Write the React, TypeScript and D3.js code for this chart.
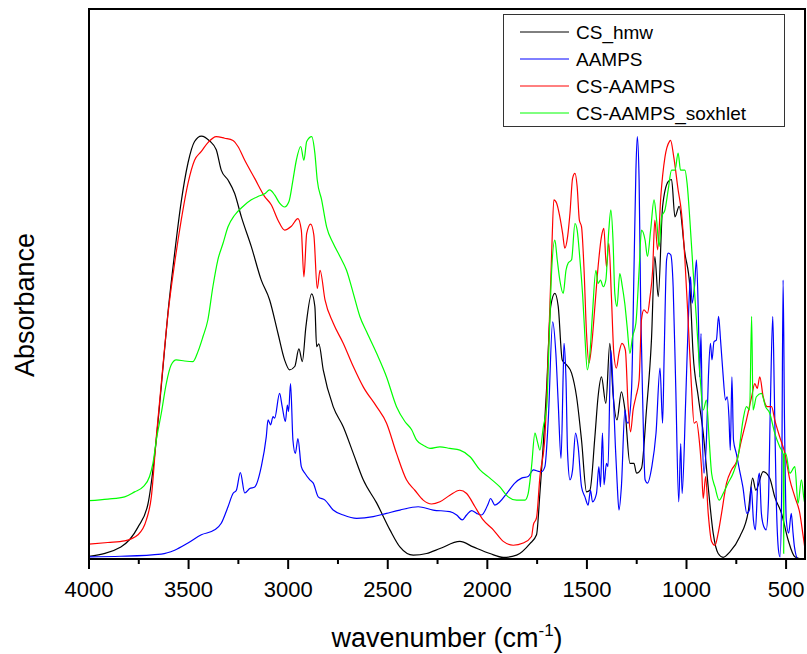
import React from "react";
import * as d3 from "d3";

type P = [number, number];

const seriesNames = ["CS_hmw", "AAMPS", "CS-AAMPS", "CS-AAMPS_soxhlet"];
const seriesColors = ["#000000", "#0000ff", "#ff0000", "#00ff00"];

const majorTicks = [4000, 3500, 3000, 2500, 2000, 1500, 1000, 500];
const minorTicks = [3750, 3250, 2750, 2250, 1750, 1250, 750];

const csHmw: P[] = [[4000,.005],[3840,.022],[3754,.058],[3704,.10],[3670,.19],[3638,.31],[3603,.45],[3570,.556],[3538,.647],[3503,.72],[3470,.759],[3436,.769],[3394,.76],[3361,.744],[3336,.707],[3302,.689],[3269,.665],[3235,.622],[3185,.568],[3135,.507],[3093,.471],[3051,.41],[3018,.362],[2993,.344],[2967,.35],[2946,.382],[2929,.359],[2911,.422],[2882,.482],[2866,.459],[2857,.386],[2846,.391],[2824,.344],[2774,.277],[2723,.24],[2673,.192],[2623,.144],[2556,.102],[2489,.053],[2439,.022],[2372,.007],[2305,.01],[2238,.019],[2138,.032],[2071,.022],[1987,.01],[1920,.003],[1853,.007],[1786,.028],[1753,.044],[1736,.12],[1702,.313],[1682,.459],[1661,.483],[1644,.459],[1624,.362],[1602,.353],[1577,.338],[1552,.295],[1527,.216],[1502,.122],[1485,.125],[1460,.222],[1444,.295],[1427,.331],[1405,.283],[1385,.392],[1369,.301],[1349,.253],[1327,.304],[1309,.271],[1284,.174],[1264,.174],[1251,.156],[1226,.165],[1201,.271],[1176,.398],[1159,.55],[1142,.477],[1120,.641],[1092,.686],[1075,.69],[1058,.622],[1037,.641],[1008,.556],[983,.495],[967,.374],[941,.295],[916,.229],[891,.131],[866,.047],[841,.01],[816,.003],[782,.013],[732,.041],[690,.086],[668,.147],[652,.125],[615,.159],[582,.147],[557,.113],[523,.083],[490,.035],[456,.004],[420,0],[400,0]];

const aamps: P[] = [[4000,.004],[3840,.005],[3637,.009],[3570,.016],[3503,.029],[3436,.044],[3369,.053],[3336,.065],[3302,.095],[3277,.119],[3260,.125],[3240,.157],[3218,.12],[3193,.128],[3168,.131],[3135,.168],[3110,.222],[3101,.253],[3088,.244],[3076,.259],[3068,.256],[3043,.301],[3030,.277],[3014,.25],[3004,.28],[2998,.268],[2988,.319],[2976,.216],[2964,.192],[2951,.219],[2934,.168],[2916,.156],[2891,.144],[2874,.138],[2849,.113],[2815,.107],[2774,.089],[2723,.08],[2656,.074],[2573,.077],[2506,.083],[2439,.089],[2347,.095],[2272,.089],[2188,.086],[2154,.08],[2126,.071],[2104,.08],[2079,.088],[2054,.083],[2029,.08],[1995,.101],[1984,.11],[1962,.098],[1937,.104],[1903,.119],[1862,.138],[1828,.147],[1795,.15],[1769,.162],[1736,.159],[1727,.159],[1711,.168],[1694,.253],[1672,.431],[1656,.374],[1644,.283],[1630,.183],[1619,.338],[1615,.392],[1605,.325],[1597,.192],[1585,.144],[1572,.162],[1557,.229],[1544,.204],[1527,.131],[1510,.113],[1494,.098],[1482,.125],[1472,.104],[1452,.119],[1440,.168],[1432,.131],[1422,.229],[1414,.135],[1402,.174],[1394,.168],[1380,.38],[1369,.313],[1357,.204],[1349,.144],[1339,.089],[1327,.131],[1309,.271],[1301,.25],[1293,.247],[1276,.307],[1264,.519],[1254,.707],[1247,.768],[1238,.689],[1230,.459],[1220,.289],[1208,.144],[1196,.138],[1174,.168],[1153,.229],[1133,.347],[1120,.247],[1112,.374],[1100,.544],[1092,.556],[1079,.553],[1067,.495],[1054,.313],[1039,.104],[1029,.21],[1022,.119],[1004,.289],[989,.453],[980,.513],[972,.465],[960,.495],[950,.544],[940,.435],[934,.331],[927,.41],[920,.222],[912,.156],[900,.216],[890,.331],[880,.392],[872,.362],[862,.395],[850,.398],[839,.441],[829,.398],[817,.338],[804,.289],[796,.295],[787,.259],[780,.198],[772,.331],[764,.216],[750,.192],[734,.162],[717,.131],[697,.083],[684,.089],[675,.131],[664,.071],[654,.053],[642,.138],[634,.156],[624,.083],[612,.059],[600,.053],[589,.101],[579,.277],[567,.441],[559,.301],[550,.119],[538,.016],[530,.004],[522,.131],[515,.507],[508,.253],[499,.071],[487,.047],[474,.083],[465,.047],[458,.022],[440,0],[400,0]];

const csAamps: P[] = [[4000,.027],[3905,.03],[3821,.033],[3754,.044],[3712,.071],[3687,.113],[3662,.222],[3637,.319],[3603,.447],[3570,.538],[3537,.616],[3503,.683],[3470,.725],[3436,.741],[3403,.757],[3361,.768],[3319,.765],[3277,.761],[3252,.75],[3218,.725],[3168,.692],[3118,.659],[3085,.644],[3051,.616],[3018,.598],[2984,.605],[2951,.619],[2934,.598],[2921,.513],[2907,.592],[2887,.609],[2871,.589],[2854,.492],[2840,.525],[2815,.471],[2774,.429],[2723,.392],[2673,.35],[2623,.313],[2556,.277],[2506,.247],[2456,.192],[2406,.144],[2364,.125],[2322,.107],[2280,.1],[2238,.104],[2188,.116],[2138,.125],[2104,.119],[2062,.095],[2021,.071],[1970,.053],[1920,.032],[1870,.025],[1820,.029],[1778,.041],[1769,.062],[1753,.075],[1736,.15],[1711,.222],[1694,.374],[1677,.556],[1666,.653],[1652,.647],[1636,.622],[1622,.592],[1611,.565],[1597,.586],[1585,.629],[1572,.692],[1560,.701],[1549,.677],[1538,.616],[1527,.604],[1515,.531],[1502,.41],[1490,.356],[1477,.386],[1460,.459],[1444,.531],[1427,.586],[1415,.601],[1402,.531],[1390,.574],[1377,.477],[1365,.374],[1352,.347],[1339,.374],[1324,.392],[1307,.38],[1293,.277],[1281,.231],[1268,.271],[1254,.295],[1238,.325],[1226,.435],[1214,.453],[1196,.447],[1183,.477],[1170,.525],[1159,.616],[1145,.562],[1129,.659],[1108,.731],[1086,.759],[1080,.761],[1064,.731],[1042,.671],[1025,.629],[1008,.544],[992,.435],[975,.313],[962,.247],[950,.25],[936,.216],[924,.162],[916,.11],[904,.15],[891,.083],[874,.032],[857,.025],[841,.047],[824,.083],[799,.138],[774,.162],[749,.177],[724,.216],[699,.253],[673,.295],[657,.319],[645,.31],[632,.331],[615,.295],[595,.277],[573,.277],[557,.253],[532,.222],[506,.192],[481,.144],[456,.113],[431,.083],[414,.041],[400,.005]];

const csAampsSoxhlet: P[] = [[4000,.106],[3905,.109],[3821,.113],[3771,.122],[3729,.131],[3696,.15],[3679,.174],[3662,.216],[3637,.265],[3612,.319],[3587,.353],[3562,.362],[3520,.36],[3478,.359],[3453,.377],[3428,.404],[3403,.435],[3378,.495],[3353,.544],[3327,.574],[3302,.604],[3269,.625],[3227,.641],[3185,.653],[3152,.659],[3118,.664],[3093,.671],[3068,.662],[3043,.647],[3018,.64],[2996,.65],[2976,.689],[2959,.725],[2937,.75],[2921,.725],[2907,.759],[2882,.768],[2866,.738],[2854,.689],[2832,.653],[2807,.604],[2774,.574],[2740,.55],[2707,.525],[2673,.483],[2640,.441],[2606,.413],[2556,.374],[2506,.331],[2456,.277],[2414,.25],[2380,.235],[2355,.216],[2322,.207],[2288,.201],[2238,.204],[2188,.201],[2138,.198],[2087,.186],[2037,.162],[1987,.147],[1937,.131],[1895,.113],[1853,.107],[1811,.107],[1795,.119],[1778,.168],[1761,.229],[1749,.214],[1736,.198],[1719,.24],[1702,.277],[1689,.404],[1677,.525],[1661,.58],[1649,.544],[1636,.507],[1619,.483],[1605,.525],[1594,.538],[1577,.544],[1560,.61],[1549,.598],[1535,.544],[1521,.477],[1510,.404],[1498,.344],[1485,.374],[1472,.447],[1455,.525],[1444,.501],[1432,.507],[1418,.495],[1405,.507],[1390,.598],[1380,.635],[1369,.58],[1360,.483],[1349,.459],[1335,.519],[1322,.495],[1310,.465],[1298,.422],[1284,.374],[1271,.404],[1254,.429],[1238,.525],[1226,.598],[1208,.58],[1196,.55],[1180,.598],[1163,.653],[1150,.616],[1137,.568],[1125,.622],[1108,.635],[1092,.671],[1075,.707],[1058,.707],[1042,.738],[1030,.707],[1008,.707],[997,.683],[983,.616],[967,.525],[950,.435],[934,.344],[916,.271],[900,.289],[886,.216],[874,.156],[857,.131],[836,.107],[816,.119],[791,.138],[766,.156],[741,.186],[716,.253],[699,.277],[683,.271],[673,.441],[666,.271],[649,.295],[624,.301],[603,.277],[582,.265],[557,.229],[532,.204],[514,.19],[512,.01],[510,.19],[502,.192],[481,.156],[456,.168],[440,.101],[423,.144],[406,.101],[402,.34],[400,0]];

const allSeries = [csHmw, aamps, csAamps, csAampsSoxhlet];

const W = 807;
const H = 654;
const left = 89;
const right = 805;
const top = 9;
const bottom = 559;
const font = "'Liberation Sans', Arial, Helvetica, sans-serif";

export default function App() {
  const x = d3.scaleLinear().domain([4000, 400]).range([left, right + 1]);
  const y = d3.scaleLinear().domain([0, 1]).range([bottom, top]);
  const line = d3
    .line<P>()
    .x((d) => x(d[0]))
    .y((d) => y(d[1]))
    .curve(d3.curveMonotoneX);

  return (
    <svg
      width={W}
      height={H}
      style={{ position: "absolute", left: 0, top: 0, background: "#fff" }}
      fontFamily={font}
    >
      <defs>
        <clipPath id="plotclip">
          <rect x={left} y={top} width={right - left} height={bottom - top} />
        </clipPath>
      </defs>
      <rect x={0} y={0} width={W} height={H} fill="#fff" />
      <g clipPath="url(#plotclip)">
        {allSeries.map((s, i) => (
          <path
            key={i}
            d={line(s) || ""}
            fill="none"
            stroke={seriesColors[i]}
            strokeWidth={1.2}
            strokeLinejoin="round"
          />
        ))}
      </g>
      <rect
        x={left}
        y={top}
        width={right - left}
        height={bottom - top}
        fill="none"
        stroke="#000"
        strokeWidth={2}
      />
      {majorTicks.map((t) => (
        <g key={"M" + t}>
          <line x1={x(t)} x2={x(t)} y1={bottom} y2={bottom + 10} stroke="#000" strokeWidth={2} />
          <text x={x(t)} y={597} fontSize={22} textAnchor="middle" fill="#000">
            {t}
          </text>
        </g>
      ))}
      {minorTicks.map((t) => (
        <line key={"m" + t} x1={x(t)} x2={x(t)} y1={bottom} y2={bottom + 5} stroke="#000" strokeWidth={2} />
      ))}
      <text x={(left + right) / 2} y={647} fontSize={27} textAnchor="middle" fill="#000">
        wavenumber (cm
        <tspan fontSize={17} dy={-11}>-1</tspan>
        <tspan dy={11}>)</tspan>
      </text>
      <text
        transform={`translate(34, 305) rotate(-90)`}
        fontSize={27}
        textAnchor="middle"
        fill="#000"
      >
        Absorbance
      </text>
      <rect x={503.5} y={14.5} width={281} height={112} fill="#fff" stroke="#333" strokeWidth={1} />
      {seriesNames.map((n, i) => {
        const cy = 32 + i * 27;
        return (
          <g key={n}>
            <line x1={520} x2={569} y1={cy} y2={cy} stroke={seriesColors[i]} strokeWidth={1} />
            <text x={576} y={cy + 7} fontSize={19} fill="#000">
              {n}
            </text>
          </g>
        );
      })}
    </svg>
  );
}
